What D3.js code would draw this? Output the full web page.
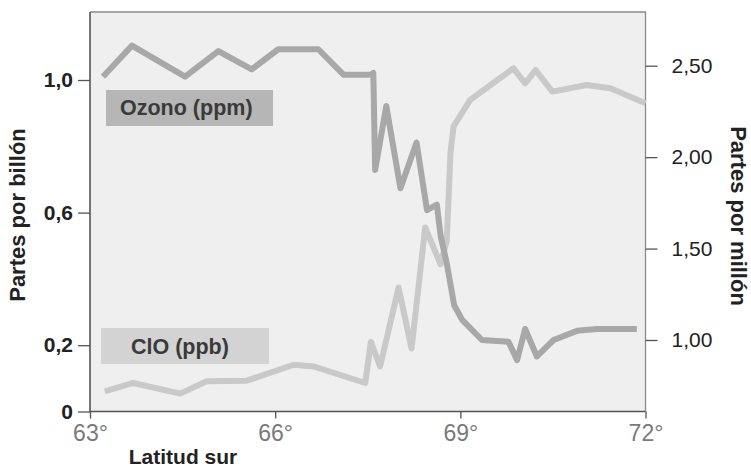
<!DOCTYPE html>
<html>
<head>
<meta charset="utf-8">
<script src="https://cdn.jsdelivr.net/npm/d3@7"></script>
<style>
  html, body { margin: 0; padding: 0; background: #ffffff; }
  svg { display: block; font-family: "Liberation Sans", Arial, Helvetica, sans-serif; }
</style>
</head>
<body>
<svg id="chart" width="751" height="470"></svg>
<script>
// ---- data ----
const ozoneLat = [63.21, 63.68, 64.54, 65.08, 65.62, 66.05, 66.70, 67.11, 67.55, 67.59, 67.62, 67.80, 68.03, 68.29, 68.46, 68.62, 68.68, 68.78, 68.90, 69.03, 69.35, 69.78, 69.92, 70.05, 70.24, 70.51, 70.89, 71.22, 71.86];
const ozonePpm = [2.44, 2.61, 2.44, 2.58, 2.48, 2.59, 2.59, 2.45, 2.45, 2.46, 1.93, 2.28, 1.83, 2.08, 1.71, 1.74, 1.57, 1.42, 1.19, 1.11, 1.00, 0.99, 0.89, 1.06, 0.91, 1.00, 1.05, 1.06, 1.06];

const cloLat = [63.24, 63.70, 64.46, 64.89, 65.54, 66.30, 66.62, 67.46, 67.55, 67.70, 68.00, 68.21, 68.43, 68.68, 68.78, 68.84, 68.89, 69.16, 69.60, 69.86, 70.05, 70.22, 70.49, 71.05, 71.43, 72.00];
const cloPpb = [0.061, 0.086, 0.054, 0.091, 0.093, 0.141, 0.136, 0.086, 0.21, 0.136, 0.374, 0.19, 0.555, 0.444, 0.515, 0.78, 0.86, 0.94, 1.00, 1.035, 0.99, 1.03, 0.965, 0.985, 0.975, 0.93];

const xTicks = [63, 66, 69, 72];
const xTickLabels = ["63°", "66°", "69°", "72°"];
const leftTicks = [0, 0.2, 0.6, 1.0];
const leftTickLabels = ["0", "0,2", "0,6", "1,0"];
const rightTicks = [1.0, 1.5, 2.0, 2.5];
const rightTickLabels = ["1,00", "1,50", "2,00", "2,50"];

const legendOzone = "Ozono (ppm)";
const legendClo = "ClO (ppb)";
const xTitle = "Latitud sur";
const leftTitle = "Partes por billón";
const rightTitle = "Partes por millón";

// ---- layout ----
const svg = d3.select("#chart");
const L = 90, R = 645.5, T = 12, B = 411.5;

const x = d3.scaleLinear().domain([63, 72]).range([L, R]);
const yLeft = d3.scaleLinear().domain([0, 1]).range([B, 80]);
const yRight = d3.scaleLinear().domain([1, 2.5]).range([340, 65.7]);

// plot background
svg.append("rect").attr("x", L).attr("y", T).attr("width", R - L).attr("height", B - T)
  .attr("fill", "#efefef");
// top/right frame
svg.append("path")
  .attr("d", `M${L},${T}H${R}V${B}`)
  .attr("fill", "none").attr("stroke", "#8a8a8a").attr("stroke-width", 1.3);

// legend boxes
svg.append("rect").attr("x", 106).attr("y", 90).attr("width", 167).attr("height", 36).attr("fill", "#b6b6b6");
svg.append("text").attr("x", 120).attr("y", 115).text(legendOzone)
  .attr("font-size", 21.5).attr("font-weight", "bold").attr("fill", "#3a3a3a");
svg.append("rect").attr("x", 101).attr("y", 328).attr("width", 168).attr("height", 36).attr("fill", "#d3d3d3");
svg.append("text").attr("x", 131).attr("y", 354).text(legendClo)
  .attr("font-size", 21.5).attr("font-weight", "bold").attr("fill", "#3a3a3a");

// lines
const ozoneData = ozoneLat.map((d, i) => [d, ozonePpm[i]]);
const cloData = cloLat.map((d, i) => [d, cloPpb[i]]);

svg.append("path").datum(cloData)
  .attr("d", d3.line().x(d => x(d[0])).y(d => yLeft(d[1])))
  .attr("fill", "none").attr("stroke", "#c9c9c9").attr("stroke-width", 6)
  .attr("stroke-linejoin", "round").attr("stroke-linecap", "butt");

svg.append("path").datum(ozoneData)
  .attr("d", d3.line().x(d => x(d[0])).y(d => yRight(d[1])))
  .attr("fill", "none").attr("stroke", "#a8a8a8").attr("stroke-width", 6)
  .attr("stroke-linejoin", "round").attr("stroke-linecap", "butt");

// left axis
const gl = svg.append("g").attr("transform", `translate(${L},0)`)
  .call(d3.axisLeft(yLeft).tickValues(leftTicks).tickSize(12).tickPadding(5)
    .tickFormat((d, i) => leftTickLabels[i]));
gl.select(".domain").remove();
gl.selectAll(".tick line").attr("stroke", "#555").attr("stroke-width", 1.3);
gl.selectAll(".tick text").attr("font-size", 21).attr("font-weight", "bold").attr("fill", "#222")
  .attr("font-family", "'Liberation Sans', Arial, sans-serif");

// right axis
const gr = svg.append("g").attr("transform", `translate(${R},0)`)
  .call(d3.axisRight(yRight).tickValues(rightTicks).tickSize(12).tickPadding(14)
    .tickFormat((d, i) => rightTickLabels[i]));
gr.select(".domain").remove();
gr.selectAll(".tick line").attr("stroke", "#555").attr("stroke-width", 1.3);
gr.selectAll(".tick text").attr("font-size", 21).attr("fill", "#222")
  .attr("font-family", "'Liberation Sans', Arial, sans-serif");

// bottom axis
const gb = svg.append("g").attr("transform", `translate(0,${B})`)
  .call(d3.axisBottom(x).tickValues(xTicks).tickSize(7).tickPadding(6)
    .tickFormat((d, i) => xTickLabels[i]));
gb.select(".domain").remove();
gb.selectAll(".tick line").attr("stroke", "#555").attr("stroke-width", 1.3);
gb.selectAll(".tick text").attr("font-size", 23).attr("fill", "#7a7a7a")
  .attr("font-family", "'Liberation Sans', Arial, sans-serif");

// left & bottom axis lines
svg.append("path").attr("d", `M${L},${T}V${B}H${R}`)
  .attr("fill", "none").attr("stroke", "#555").attr("stroke-width", 1.6);

// titles
svg.append("text").attr("x", 183).attr("y", 464).attr("text-anchor", "middle")
  .attr("font-size", 21).attr("font-weight", "bold").attr("fill", "#222").text(xTitle);
svg.append("text").attr("transform", "translate(25,215) rotate(-90)").attr("text-anchor", "middle")
  .attr("font-size", 22).attr("font-weight", "bold").attr("fill", "#222").text(leftTitle);
svg.append("text").attr("transform", "translate(731,216) rotate(90)").attr("text-anchor", "middle")
  .attr("font-size", 22).attr("font-weight", "bold").attr("fill", "#222").text(rightTitle);
</script>
</body>
</html>
